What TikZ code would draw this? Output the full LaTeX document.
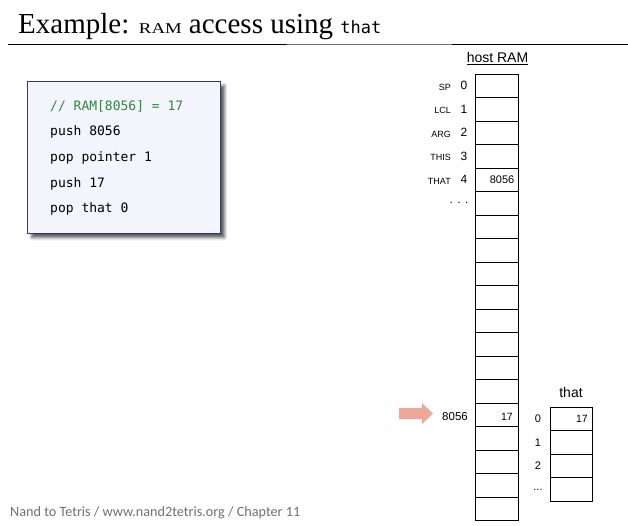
\documentclass[tikz,border=0pt]{standalone}
\usepackage{fontspec}
\setmainfont{Liberation Serif}
\setsansfont{Liberation Sans}
\setmonofont{DejaVu Sans Mono}
\newfontfamily\footfont{Carlito}
\usetikzlibrary{shadows.blur}

\definecolor{codefill}{RGB}{243,244,252}
\definecolor{codeedge}{RGB}{46,59,110}
\definecolor{codegreen}{RGB}{40,140,60}
\definecolor{ptrfill}{RGB}{240,168,150}
\definecolor{footgrey}{RGB}{112,112,112}
\definecolor{rulegrey}{RGB}{115,115,115}

\tikzset{
  cell/.style={draw=black, line width=0.9pt, minimum width=43pt, minimum height=23.5pt,
               inner sep=0pt, outer sep=0pt},
  reglabel/.style={font=\sffamily\fontsize{9}{10}\selectfont, anchor=east, inner sep=0pt},
  idx/.style={font=\sffamily\fontsize{12}{14}\selectfont, inner sep=0pt},
  val/.style={font=\sffamily\fontsize{10.5}{12}\selectfont, anchor=east, inner sep=0pt},
  codeline/.style={font=\ttfamily\fontsize{13}{15}\selectfont, anchor=west, inner sep=0pt},
}

\begin{document}
\begin{tikzpicture}[x=1pt, y=-1pt]
  \useasboundingbox (0,0) rectangle (628,526);

  % slide title and rule
  \node[anchor=base west, inner sep=0pt, font=\fontsize{29}{32}\selectfont] (title) at (18,34)
    {Example: \scalebox{1.25}[1]{\fontsize{15}{18}\selectfont RAM} access using
     {\ttfamily\fontsize{17}{20}\selectfont that}};
  \draw[line width=1.3pt] (8,44.3) -- (287,44.3);
  \draw[line width=1.3pt, rulegrey] (287,44.3) -- (452,44.3);
  \draw[line width=1.3pt] (452,44.3) -- (628,44.3);

  % VM code box
  \node[draw=codeedge, line width=1.2pt, fill=codefill, minimum width=193pt, minimum height=152pt,
        anchor=north west, inner sep=0pt,
        blur shadow={shadow xshift=4pt, shadow yshift=-4pt, shadow blur radius=3pt, shadow opacity=65}]
        (code) at (27,81) {};
  \node[codeline, text=codegreen] (c0) at (50,106) {// RAM[8056] = 17};
  \node[codeline] (c1) at (50,132) {push 8056};
  \node[codeline] (c2) at (50,158) {pop pointer 1};
  \node[codeline] (c3) at (50,183.5) {push 17};
  \node[codeline] (c4) at (50,209) {pop that 0};

  % host RAM column
  \node[font=\sffamily\fontsize{14}{16}\selectfont, inner sep=0pt] (hostlbl) at (497.5,59)
    {\underline{host RAM}};
  \foreach \i in {0,...,18} {
    \node[cell] (r\i) at (496.5,{74+23.5*\i+11.75}) {};
  }
  \foreach \i/\name in {0/SP,1/LCL,2/ARG,3/THIS,4/THAT} {
    \node[reglabel] (reg\i) at ([xshift=-24pt,yshift=-1.5pt]r\i.west) {\name};
    \node[idx] (ix\i) at ([xshift=-11pt]r\i.west) {\i};
  }
  \node[font=\sffamily\fontsize{12}{14}\selectfont, inner sep=0pt] (dots) at (459,203) {. . .};
  \node[val, font=\sffamily\fontsize{11}{13}\selectfont] (v4) at ([xshift=-3.5pt]r4.east) {8056};
  \node[val] (v14) at ([xshift=-5pt,yshift=-2pt]r14.east) {17};
  \node[font=\sffamily\fontsize{11.5}{13}\selectfont, anchor=east, inner sep=0pt] (addr)
    at ([xshift=-7pt,yshift=-2pt]r14.west) {8056};

  % pointer arrow
  \fill[ptrfill] (399,408) -- (422,408) -- (422,403) -- (433,413.5) -- (422,424)
                 -- (422,419) -- (399,419) -- cycle;

  % that segment
  \node[font=\sffamily\fontsize{14}{16}\selectfont, inner sep=0pt] (thatlbl) at (571,392) {that};
  \foreach \i in {0,...,3} {
    \node[cell, minimum width=42pt] (t\i) at (571,{407+23.5*\i+11.75}) {};
  }
  \foreach \i in {0,1,2} {
    \node[idx, font=\sffamily\fontsize{11}{13}\selectfont] (tix\i) at ([xshift=-12pt]t\i.west) {\i};
  }
  \node[idx, font=\sffamily\fontsize{11}{13}\selectfont] (tdots) at ([xshift=-12pt,yshift=-1pt]t3.west) {...};
  \node[val] (tv0) at ([xshift=-4pt]t0.east) {17};

  % footer
  \node[anchor=west, inner sep=0pt, text=footgrey, font=\footfont\fontsize{14.2}{16}\selectfont]
    (foot) at (10,513) {Nand to Tetris / www.nand2tetris.org / Chapter 11};
\end{tikzpicture}
\end{document}
